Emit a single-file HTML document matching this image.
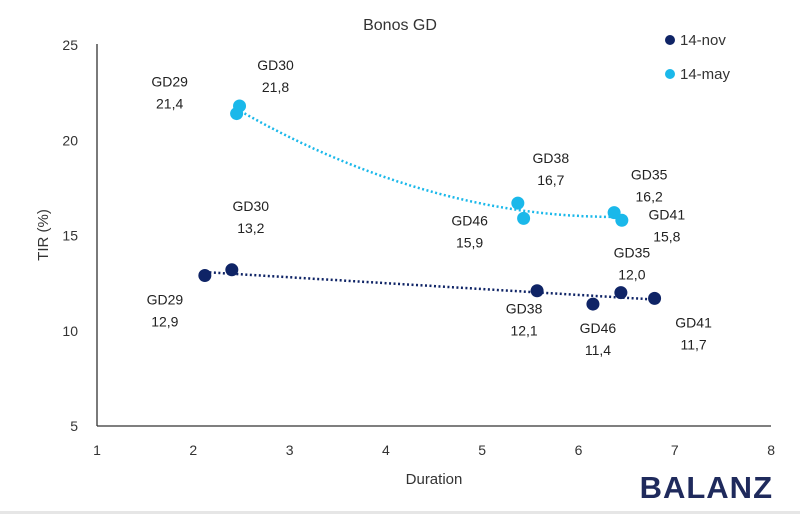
<!DOCTYPE html>
<html><head><meta charset="utf-8"><style>
html,body{margin:0;padding:0;background:#fff;}
svg{display:block;font-family:"Liberation Sans",sans-serif;}
</style></head><body>
<svg id="chart" width="800" height="514" viewBox="0 0 800 514">
<rect x="0" y="0" width="800" height="514" fill="#fff"/>
<rect x="0" y="511" width="800" height="3" fill="#e6e6e6"/>
<text x="400" y="30" text-anchor="middle" font-size="16" fill="#333">Bonos GD</text>
<line x1="97" y1="44" x2="97" y2="426" stroke="#333" stroke-width="1.3"/>
<line x1="97" y1="426" x2="771" y2="426" stroke="#333" stroke-width="1.3"/>
<text transform="translate(48,235) rotate(-90)" text-anchor="middle" font-size="15" fill="#333">TIR (%)</text>
<text x="434" y="484" text-anchor="middle" font-size="15" fill="#333">Duration</text>
<text x="773" y="498" text-anchor="end" font-size="31" font-weight="bold" fill="#1f2a5c" letter-spacing="1">BALANZ</text>
<circle cx="670" cy="40" r="5" fill="#0f2466"/>
<text x="680" y="45" font-size="15" fill="#333">14-nov</text>
<circle cx="670" cy="74" r="5" fill="#1ab8ea"/>
<text x="680" y="79" font-size="15" fill="#333">14-may</text>
<g id="ticks"></g><g id="trends"></g><g id="pts"></g><g id="labels"></g>
</svg>
<script>
const xTicks = [1,2,3,4,5,6,7,8];
const yTicks = [5,10,15,20,25];
const bondNames = ["GD29","GD30","GD38","GD46","GD35","GD41"];
const novDuration = [2.12,2.40,5.57,6.15,6.44,6.79];
const novTIR = [12.9,13.2,12.1,11.4,12.0,11.7];
const mayDuration = [2.45,2.48,5.37,5.43,6.37,6.45];
const mayTIR = [21.4,21.8,16.7,15.9,16.2,15.8];
const novLabelOff = [[-40,24],[19,-64],[-13,18],[5,24],[11,-40],[39,24]];
const mayLabelOff = [[-67,-32],[36,-41],[33,-45],[-54,2],[35,-38],[45,-6]];
const NS="http://www.w3.org/2000/svg";
const X=v=>97+(v-1)*96.3;
const Y=v=>426-(v-5)*19.05;
function mk(tag,attrs,parent){const e=document.createElementNS(NS,tag);for(const k in attrs)e.setAttribute(k,attrs[k]);document.getElementById(parent).appendChild(e);return e;}
xTicks.forEach(t=>{const e=mk('text',{x:X(t),y:455,'text-anchor':'middle','font-size':14,fill:'#333'},'ticks');e.textContent=t;

});
yTicks.forEach(t=>{const e=mk('text',{x:78,y:Y(t)+5,'text-anchor':'end','font-size':14,fill:'#333'},'ticks');e.textContent=t;

});
function polyfit(xs,ys,deg){const n=deg+1;const A=[];for(let i=0;i<n;i++){A.push([]);for(let j=0;j<n;j++){let s=0;xs.forEach(x=>s+=Math.pow(x,i+j));A[i].push(s);}let s=0;xs.forEach((x,k)=>s+=Math.pow(x,i)*ys[k]);A[i].push(s);}
for(let i=0;i<n;i++){let p=i;for(let r=i+1;r<n;r++)if(Math.abs(A[r][i])>Math.abs(A[p][i]))p=r;[A[i],A[p]]=[A[p],A[i]];for(let r=0;r<n;r++){if(r===i)continue;const f=A[r][i]/A[i][i];for(let c=i;c<=n;c++)A[r][c]-=f*A[i][c];}}
return A.map((row,i)=>row[n]/row[i]);}
function trend(xs,ys,deg,color,name){const c=polyfit(xs,ys,deg);const a=Math.min(...xs),b=Math.max(...xs);let d='';for(let i=0;i<=60;i++){const x=a+(b-a)*i/60;let y=0;c.forEach((k,j)=>y+=k*Math.pow(x,j));d+=(i?'L':'M')+X(x).toFixed(1)+','+Y(y).toFixed(1);}
const e=mk('path',{d:d,fill:'none',stroke:color,'stroke-width':2.5,'stroke-dasharray':'2 2.5'},'trends');

}
trend(novDuration,novTIR,1,'#0f2466','trendline-nov');
trend(mayDuration,mayTIR,2,'#1ab8ea','trendline-may');
function series(xs,ys,offs,color,tag){xs.forEach((x,i)=>{const c=mk('circle',{cx:X(x),cy:Y(ys[i]),r:6.5,fill:color},'pts');


const lx=X(x)+offs[i][0],ly=Y(ys[i])+offs[i][1];
const t=mk('text',{x:lx,'text-anchor':'middle','font-size':14,fill:'#222'},'labels');


const t1=document.createElementNS(NS,'tspan');t1.setAttribute('x',lx);t1.setAttribute('y',ly+5);t1.textContent=bondNames[i];t.appendChild(t1);
const t2=document.createElementNS(NS,'tspan');t2.setAttribute('x',lx);t2.setAttribute('y',ly+27);t2.textContent=ys[i].toFixed(1).replace('.',',');t.appendChild(t2);});}
series(novDuration,novTIR,novLabelOff,'#0f2466','nov');
series(mayDuration,mayTIR,mayLabelOff,'#1ab8ea','may');
</script>
</body></html>
